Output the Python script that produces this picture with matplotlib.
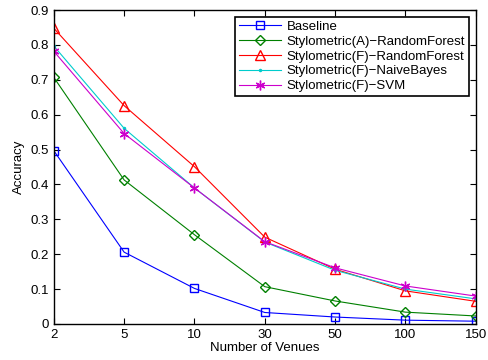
import numpy as np
import matplotlib.pyplot as plt
plt.close('all')
plt.rcParams['font.family'] = ['Liberation Sans', 'DejaVu Sans']

venues = ['2', '5', '10', '30', '50', '100', '150']

baseline = [0.497, 0.206, 0.102, 0.033, 0.020, 0.011, 0.008]
stylo_a_rf = [0.707, 0.413, 0.256, 0.107, 0.066, 0.034, 0.023]
stylo_f_rf = [0.848, 0.626, 0.451, 0.249, 0.157, 0.095, 0.065]
stylo_f_nb = [0.797, 0.561, 0.390, 0.235, 0.154, 0.100, 0.072]
stylo_f_svm = [0.782, 0.546, 0.390, 0.236, 0.161, 0.109, 0.080]

x = np.arange(len(venues))

fig = plt.figure(figsize=(4.89, 3.6), dpi=100)
ax = fig.add_axes([0.110, 0.100, 0.863, 0.872])

ax.plot(x, baseline, color='#0000ff', marker='s', ms=5.5, mfc='none', lw=0.8, label='Baseline')
ax.plot(x, stylo_a_rf, color='#008000', marker='D', ms=5.5, mfc='none', lw=0.8,
        label='Stylometric(A)\u2212RandomForest')
ax.plot(x, stylo_f_rf, color='#ff0000', marker='^', ms=7.5, mfc='none', lw=0.8,
        label='Stylometric(F)\u2212RandomForest')
ax.plot(x, stylo_f_nb, color='#00cccc', marker='.', ms=3, lw=0.8,
        label='Stylometric(F)\u2212NaiveBayes')
ax.plot(x, stylo_f_svm, color='#cc00cc', marker=(6, 2, 0), ms=7, mew=1, lw=0.8,
        label='Stylometric(F)\u2212SVM')

ax.set_xlim(0, len(venues) - 1)
ax.set_ylim(0, 0.9)
ax.set_xticks(x)
ax.set_xticklabels(venues)
ax.set_yticks(np.arange(0, 0.91, 0.1))
ax.set_yticklabels(['0', '0.1', '0.2', '0.3', '0.4', '0.5', '0.6', '0.7', '0.8', '0.9'])
ax.tick_params(direction='in', top=True, right=True, labelsize=9.5, length=4)
for s in ax.spines.values():
    s.set_linewidth(1.0)
ax.set_xlabel('Number of Venues', fontsize=9.5, labelpad=1)
ax.set_ylabel('Accuracy', fontsize=9.5, labelpad=4)

leg = ax.legend(loc='upper right', fontsize=9.5, fancybox=False, framealpha=1,
                edgecolor='black', borderpad=0.3, labelspacing=0.2,
                handlelength=3.2, handletextpad=0.4, borderaxespad=0.5)
leg.get_frame().set_linewidth(1.2)

plt.savefig('out.png', dpi=100)
